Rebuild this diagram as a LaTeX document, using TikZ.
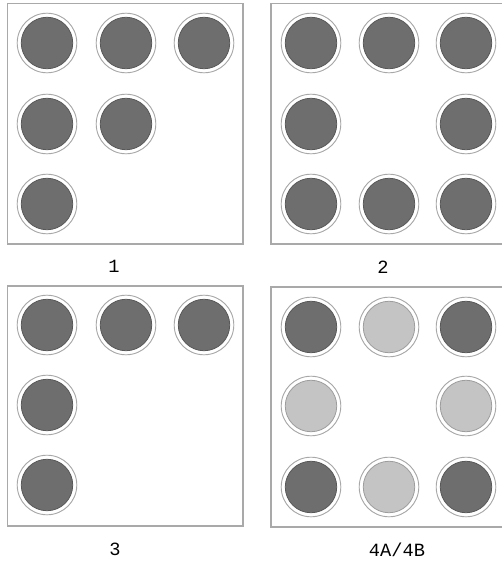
\documentclass[tikz,border=0pt]{standalone}
\usepackage{fontspec}
\setmonofont{Liberation Mono}
\usetikzlibrary{positioning}
\definecolor{PinDark}{HTML}{6E6E6E}
\definecolor{PinLight}{HTML}{C4C4C4}
\definecolor{RimGray}{HTML}{A8A8A8}
\definecolor{FrameGray}{HTML}{A9A9A9}

\begin{document}
\begin{tikzpicture}[
    x=0.75pt,y=-0.75pt,
    frame/.style={draw=FrameGray,line width=1.1pt},
    pin/.style={circle,draw=RimGray,line width=0.7pt,fill=white,minimum size=44.7pt,inner sep=0pt,
      path picture={\draw[draw=#1!80!black,line width=0.6pt,fill=#1]
        (path picture bounding box.center) circle (19.3pt);}},
    caption/.style={font=\ttfamily\fontsize{14pt}{16pt}\selectfont,inner sep=0pt}
  ]
    \useasboundingbox (0,0) rectangle (502,564);
    \clip (0,0) rectangle (502,564);
    % panel frames
    \draw[frame] (7.5,3.5) rectangle (243,244);
    \draw[frame] (271,3.5) rectangle (506,244);
    \draw[frame] (7.5,286) rectangle (243,526);
    \draw[frame] (271,287) rectangle (506,527);
    % panel 1
    \foreach \x/\y/\n in {47/43/1,126/43/2,204/43/3,47/124/4,126/124/5,47/204/6}
      \node[pin=PinDark] (a\n) at (\x,\y) {};
    % panel 2
    \foreach \x/\y/\n in {311/43/1,389/43/2,466/43/3,311/124/4,466/124/5,311/204/6,389/204/7,466/204/8}
      \node[pin=PinDark] (b\n) at (\x,\y) {};
    % panel 3
    \foreach \x/\y/\n in {47/325/1,126/325/2,204/325/3,47/405/4,47/485/5}
      \node[pin=PinDark] (c\n) at (\x,\y) {};
    % panel 4
    \foreach \x/\y/\n/\c in {311/327/1/PinDark,389/327/2/PinLight,466/327/3/PinDark,
                             311/406/4/PinLight,466/406/5/PinLight,
                             311/487/6/PinDark,389/487/7/PinLight,466/487/8/PinDark}
      \node[pin=\c] (d\n) at (\x,\y) {};
    % captions
    \node[caption] (t1) at (114,266) {1};
    \node[caption] (t2) at (383,267) {2};
    \node[caption] (t3) at (115,549) {3};
    \node[caption] (t4) at (397,550) {4A/4B};
  \end{tikzpicture}
\end{document}
